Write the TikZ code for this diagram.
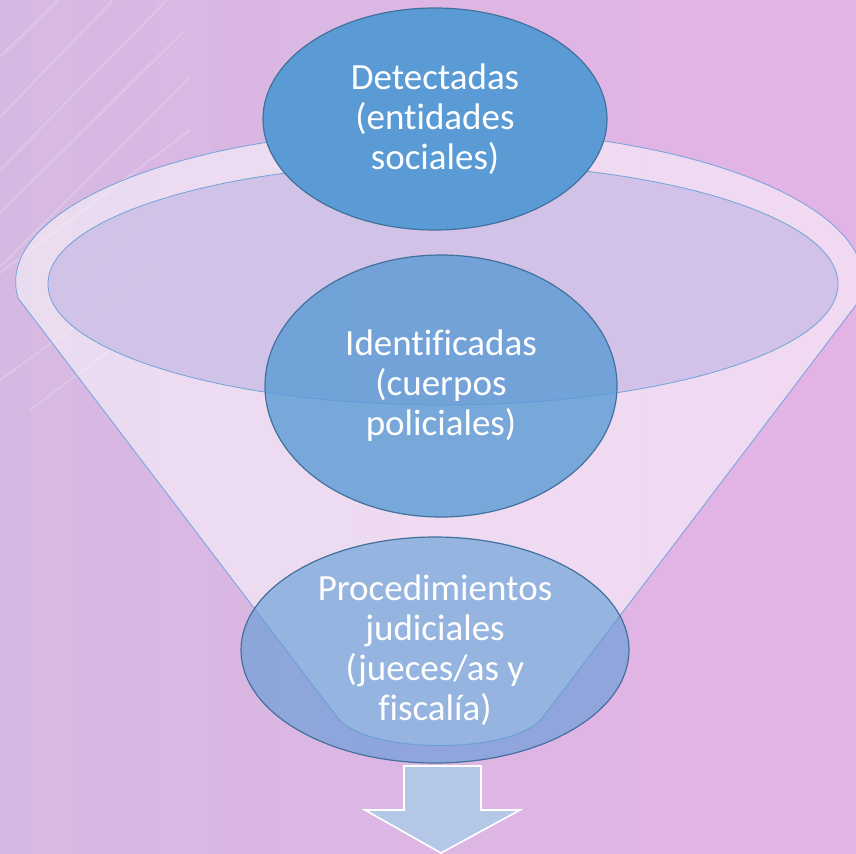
\documentclass[tikz,border=0pt]{standalone}
\usepackage{fontspec}
\setmainfont[Ligatures=NoCommon]{Carlito}
\usetikzlibrary{shapes.geometric}
\definecolor{bgleft}{HTML}{D6B9E2}
\definecolor{bgright}{HTML}{E4B3E6}
\definecolor{stageblue}{HTML}{5B9BD5}
\definecolor{stageline}{HTML}{41719C}
\definecolor{rimline}{HTML}{6FA3DA}
\definecolor{innerlav}{HTML}{CBBDE5}
\definecolor{arrowblue}{HTML}{B4C7E7}
\tikzstyle{stage}=[ellipse,draw=stageline,line width=0.6pt,fill=stageblue,text=white,text opacity=1,inner sep=0pt,align=center,font=\fontsize{18.5}{20}\selectfont]
\tikzstyle{rim}=[draw=rimline,line width=0.4pt]

\begin{document}
\begin{tikzpicture}[x=0.5pt,y=-0.5pt]
    % Background with its faint streaks
    \useasboundingbox (0,0) rectangle (856,853);
    \fill[left color=bgleft,right color=bgright] (0,0) rectangle (856,853);
    \foreach \sx/\sy/\ex/\ey in {0/57/58/0, 0/117/113/0, 0/170/167/0, 0/213/183/32, 0/267/190/77, 0/273/190/130, 60/293/190/175, 0/380/157/267, 30/410/110/350}
        \draw[white,opacity=0.18,line width=1pt] (\sx,\sy) -- (\ex,\ey);
    % The funnel and its mouth
    \path[rim,fill=white,fill opacity=0.5] (18,298) arc[start angle=174,end angle=366,x radius=424,y radius=153]
        -- (543,717) .. controls (515,755) and (365,755) .. (337,717) -- cycle;
    \path[rim,fill=innerlav,fill opacity=0.8] (443,284) ellipse[x radius=395,y radius=121];
    % The three stages
    \node[stage,minimum width=172pt,minimum height=111pt] (detectadas) at (435,119) {Detectadas\\(entidades\\sociales)};
    \node[stage,minimum width=176pt,minimum height=131pt,fill opacity=0.8] (identificadas) at (441,386) {Identificadas\\(cuerpos\\policiales)};
    \node[stage,minimum width=194pt,minimum height=113pt,fill opacity=0.6] (judiciales) at (435,650) {Procedimientos\\judiciales\\(jueces/as y\\fiscalía)};
    % Arrow out of the funnel
    \path[draw=white,line width=0.8pt,fill=arrowblue] (404,766) -- (481,766) -- (481,810) -- (520,810) -- (441,853) -- (365,810) -- (404,810) -- cycle;
\end{tikzpicture}
\end{document}
